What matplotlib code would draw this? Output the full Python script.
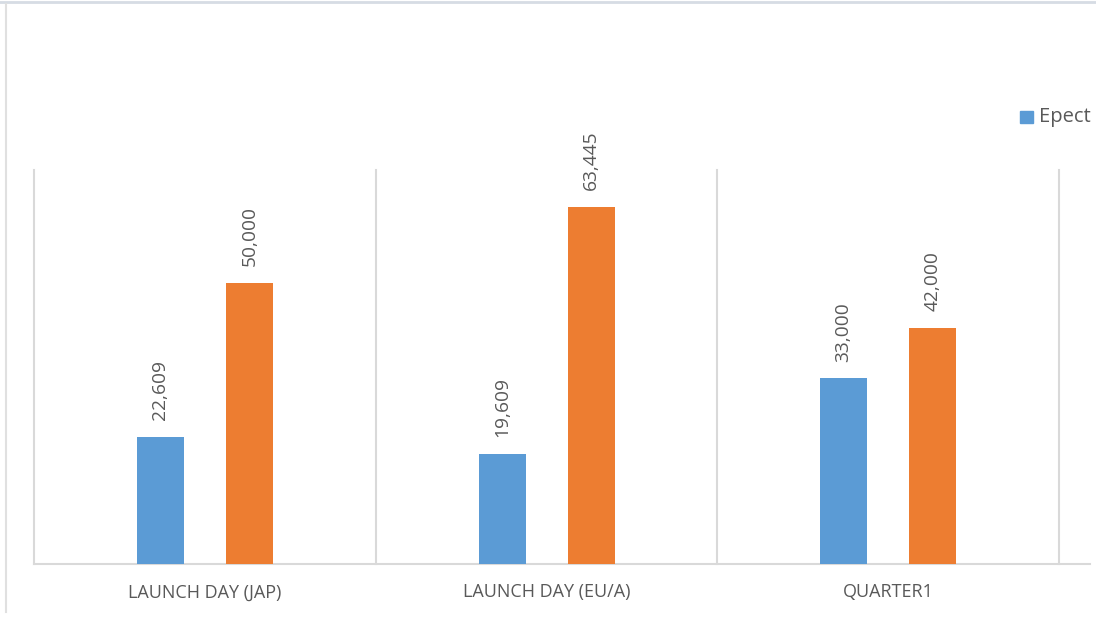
import numpy as np
import matplotlib
matplotlib.use("Agg")
import matplotlib.pyplot as plt
from matplotlib.patches import Rectangle
from matplotlib.lines import Line2D

# data
categories = ["LAUNCH DAY (JAP)", "LAUNCH DAY (EU/A)", "QUARTER1"]
expected = [22609, 19609, 33000]
actual = [50000, 63445, 42000]
legend_label = "Epect"

blue = "#5B9BD5"
orange = "#ED7D31"
grid_col = "#D9D9D9"
text_col = "#595959"

plt.rcParams['font.family'] = ['Open Sans', 'DejaVu Sans']

W, H = 1096, 618
fig = plt.figure(figsize=(W / 100, H / 100), dpi=100)

# plot area in pixels: x 34..1090, y 170..564
x0, x1, ytop, ybot = 34, 1090, 170, 564
ax = fig.add_axes([x0 / W, 1 - ybot / H, (x1 - x0) / W, (ybot - ytop) / H])

cat_w = (1059 - 34) / 3.0
x = np.arange(len(categories))
bw = 47 / cat_w
off = 44.5 / cat_w

ax.bar(x - off, expected, width=bw, color=blue, zorder=3)
ax.bar(x + off, actual, width=bw, color=orange, zorder=3)

ax.set_xlim(-0.5, -0.5 + (x1 - x0) / cat_w)
ax.set_ylim(0, 70000)

# category separators
for b in np.arange(-0.5, len(categories) + 0.5, 1.0):
    ax.plot([b, b], [0, 70000], color=grid_col, lw=1.5, zorder=1, clip_on=False)

for s in ["top", "right", "left"]:
    ax.spines[s].set_visible(False)
ax.spines["bottom"].set_color(grid_col)
ax.spines["bottom"].set_linewidth(1.5)

ax.set_yticks([])
ax.set_xticks(x)
ax.set_xticklabels(categories, color=text_col, fontsize=13)
ax.tick_params(axis="x", length=0, pad=14)

for xi, v in zip(x - off, expected):
    ax.annotate(f"{v:,}", (xi, v), xytext=(0, 12), textcoords="offset points",
                rotation=90, ha="center", va="bottom", color=text_col, fontsize=13.8)
for xi, v in zip(x + off, actual):
    ax.annotate(f"{v:,}", (xi, v), xytext=(0, 12), textcoords="offset points",
                rotation=90, ha="center", va="bottom", color=text_col, fontsize=13.8)

# legend (cut at right edge)
fig.patches.append(Rectangle((1020 / W, 1 - 123 / H), 13 / W, 12 / H,
                             transform=fig.transFigure, color=blue))
fig.text(1039 / W, 1 - 117 / H, legend_label, color=text_col, fontsize=14.5, va="center")

# chart frame remnants
fig.add_artist(Line2D([0, 1], [1 - 2 / H, 1 - 2 / H], color="#D6DCE4", lw=2, transform=fig.transFigure))
fig.add_artist(Line2D([6 / W, 6 / W], [1 - 4 / H, 1 - 612 / H], color="#E0E0E0", lw=1.5, transform=fig.transFigure))

fig.savefig("out.png", dpi=100)
